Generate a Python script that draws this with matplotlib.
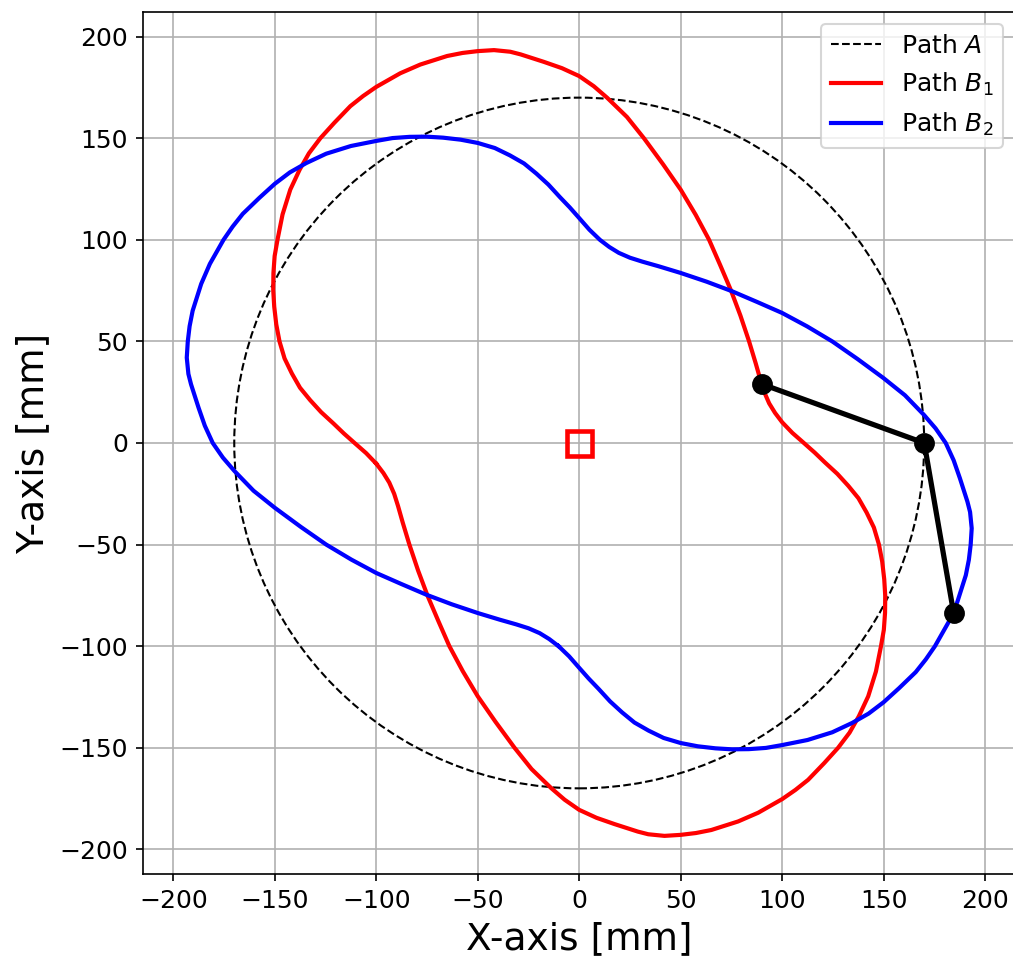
# imports
import matplotlib
matplotlib.use("Agg")
import matplotlib.pyplot as plt
from matplotlib.patches import Circle
from matplotlib.lines import Line2D

# path A: circle radius
radius_A = 170

# path B1 points (going round the curve)
B1_x = [-100, -105, -110.7, -116, -121, -127.2, -132.6, -137.6, -141.6, -145.2,
        -147.7, -149.3, -150.3, -150.8, -150.7, -150.1, -148.7, -146.2, -142.4, -137.8,
        -133.2, -127.6, -120.7, -112.8, -106.5, -100, -88.2, -78.3, -65.1, -57.5,
        -50, -42, -34, -28.9, -17.4, -8.5, 0, 7.2, 13.8, 23.5, 31.9,
        41.3, 50, 57.4, 64, 69.4, 74.7, 79.4, 83.7, 87, 89.3,
        91.2, 93.6, 96.5,
        100, 105, 110.7, 116, 121, 127.2, 132.6, 137.6, 141.6, 145.2,
        147.7, 149.3, 150.3, 150.8, 150.7, 150.1, 148.7, 146.2, 142.4, 137.8,
        133.2, 127.6, 120.7, 112.8, 106.5, 100, 88.2, 78.3, 65.1, 57.5,
        50, 42, 34, 28.9, 17.4, 8.5, 0, -7.2, -13.8, -23.5, -31.9,
        -41.3, -50, -57.4, -64, -69.4, -74.7, -79.4, -83.7, -87, -89.3,
        -91.2, -93.6, -96.5, -100]
B1_y = [-10.2, -5, 0, 4.7, 9.5, 15.2, 21.1, 27.2, 34.2, 41.6,
        50, 58.4, 67.1, 75.3, 83.6, 92, 100, 112.5, 124.7, 134.5,
        142.6, 150, 157.6, 165.8, 170.8, 175.3, 182, 186.3, 190.5, 192,
        192.9, 193.4, 192.6, 191.3, 187.6, 184.5, 180.6, 175.6, 169.9, 160.5, 150,
        137.2, 124.7, 112.3, 100, 87.7, 75.3, 62.8, 50, 39.1, 31,
        25, 19.5, 14.8,
        10.2, 5, 0, -4.7, -9.5, -15.2, -21.1, -27.2, -34.2, -41.6,
        -50, -58.4, -67.1, -75.3, -83.6, -92, -100, -112.5, -124.7, -134.5,
        -142.6, -150, -157.6, -165.8, -170.8, -175.3, -182, -186.3, -190.5, -192,
        -192.9, -193.4, -192.6, -191.3, -187.6, -184.5, -180.6, -175.6, -169.9, -160.5, -150,
        -137.2, -124.7, -112.3, -100, -87.7, -75.3, -62.8, -50, -39.1, -31,
        -25, -19.5, -14.8, -10.2]

# path B2 points (going round the curve)
B2_x = [-10.2, -5, 0, 4.7, 9.5, 15.2, 21.1, 27.2, 34.2, 41.6,
        50, 58.4, 67.1, 75.3, 83.6, 92, 100, 112.5, 124.7, 134.5,
        142.6, 150, 157.6, 165.8, 170.8, 175.3, 182, 186.3, 190.5, 192,
        192.9, 193.4, 192.6, 191.3, 187.6, 184.5, 180.6, 175.6, 169.9, 160.5, 150,
        137.2, 124.7, 112.3, 100, 87.7, 75.3, 62.8, 50, 39.1, 31,
        25, 19.5, 14.8,
        10.2, 5, 0, -4.7, -9.5, -15.2, -21.1, -27.2, -34.2, -41.6,
        -50, -58.4, -67.1, -75.3, -83.6, -92, -100, -112.5, -124.7, -134.5,
        -142.6, -150, -157.6, -165.8, -170.8, -175.3, -182, -186.3, -190.5, -192,
        -192.9, -193.4, -192.6, -191.3, -187.6, -184.5, -180.6, -175.6, -169.9, -160.5, -150,
        -137.2, -124.7, -112.3, -100, -87.7, -75.3, -62.8, -50, -39.1, -31,
        -25, -19.5, -14.8, -10.2]
B2_y = [-100, -105, -110.7, -116, -121, -127.2, -132.6, -137.6, -141.6, -145.2,
        -147.7, -149.3, -150.3, -150.8, -150.7, -150.1, -148.7, -146.2, -142.4, -137.8,
        -133.2, -127.6, -120.7, -112.8, -106.5, -100, -88.2, -78.3, -65.1, -57.5,
        -50, -42, -34, -28.9, -17.4, -8.5, 0, 7.2, 13.8, 23.5, 31.9,
        41.3, 50, 57.4, 64, 69.4, 74.7, 79.4, 83.7, 87, 89.3,
        91.2, 93.6, 96.5,
        100, 105, 110.7, 116, 121, 127.2, 132.6, 137.6, 141.6, 145.2,
        147.7, 149.3, 150.3, 150.8, 150.7, 150.1, 148.7, 146.2, 142.4, 137.8,
        133.2, 127.6, 120.7, 112.8, 106.5, 100, 88.2, 78.3, 65.1, 57.5,
        50, 42, 34, 28.9, 17.4, 8.5, 0, -7.2, -13.8, -23.5, -31.9,
        -41.3, -50, -57.4, -64, -69.4, -74.7, -79.4, -83.7, -87, -89.3,
        -91.2, -93.6, -96.5, -100]

# linkage joints
link_x = [90, 170, 184.5]
link_y = [29, 0, -83.7]

# center marker
center_x = [0]
center_y = [0]

fig = plt.figure(figsize=(1013 / 150, 960 / 150), dpi=150)
ax = fig.add_axes([0.1409, 0.0893, 0.8618, 0.8985])

ax.add_patch(Circle((0, 0), radius_A, fill=False, ec="black", ls="--", lw=1, zorder=2))
ax.plot(B1_x, B1_y, color="red", lw=2, zorder=3)
ax.plot(B2_x, B2_y, color="blue", lw=2, zorder=3)
ax.plot(link_x, link_y, color="black", lw=2.5, marker="o", ms=9, zorder=5)
ax.plot(center_x, center_y, ls="none", marker="s", ms=12, mfc="none", mec="red", mew=2.2, zorder=4)

# formatting for the graph
ax.set_xlim(-215.1, 215.1)
ax.set_ylim(-212.3, 212.3)
ax.set_xticks([-200, -150, -100, -50, 0, 50, 100, 150, 200])
ax.set_yticks([-200, -150, -100, -50, 0, 50, 100, 150, 200])
ax.tick_params(labelsize=12)
ax.set_xlabel("X-axis [mm]", fontsize=18)
ax.set_ylabel("Y-axis [mm]", fontsize=18)
ax.grid(True)
ax.set_axisbelow(True)

handles = [Line2D([], [], color="black", ls="--", lw=1),
           Line2D([], [], color="red", lw=2),
           Line2D([], [], color="blue", lw=2)]
ax.legend(handles, ["Path $A$", "Path $B_1$", "Path $B_2$"], loc="upper right", fontsize=12)

fig.savefig("out.png", dpi=150)
